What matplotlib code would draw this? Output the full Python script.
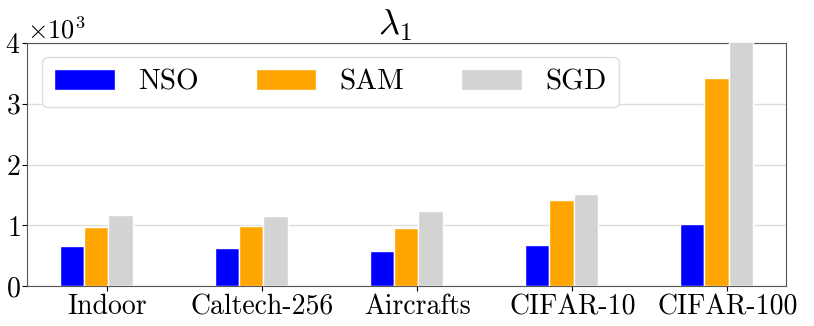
import numpy as np
import matplotlib
matplotlib.use("Agg")
import matplotlib.pyplot as plt
from matplotlib.ticker import ScalarFormatter

# Fuente tipo LaTeX (Computer Modern)
plt.rcParams['font.family'] = 'serif'
plt.rcParams['font.serif'] = ['cmr10']
plt.rcParams['mathtext.fontset'] = 'cm'
plt.rcParams['axes.unicode_minus'] = False
plt.rcParams['axes.formatter.use_mathtext'] = True

# Datos
datasets = ['Indoor', 'Caltech-256', 'Aircrafts', 'CIFAR-10', 'CIFAR-100']
methods = ['NSO', 'SAM', 'SGD']
colors = ['blue', 'orange', 'lightgray']
nso = [654, 621, 572, 676, 1021]
sam = [978, 995, 962, 1423, 3420]
sgd = [1176, 1153, 1242, 1522, 4200]

fig, ax = plt.subplots(figsize=(8.14, 3.26), dpi=100)

x = np.arange(len(datasets))
width = 0.157
offsets = [-0.227, -0.07, 0.087]
for vals, off, c, lab in zip([nso, sam, sgd], offsets, colors, methods):
    ax.bar(x + off, vals, width, color=c, edgecolor='white', linewidth=1, label=lab, zorder=3)

ax.set_xticks(x)
ax.set_xticklabels(datasets, fontsize=20)
ax.set_xlim(-0.516, 4.38)
ax.set_ylim(0, 4000)
ax.set_yticks([0, 1000, 2000, 3000, 4000])

fmt = ScalarFormatter(useMathText=True)
fmt.set_powerlimits((0, 0))
ax.yaxis.set_major_formatter(fmt)
ax.tick_params(axis='y', labelsize=20, pad=1)
ax.tick_params(axis='x', pad=2)
ax.yaxis.get_offset_text().set_fontsize(19)
ax.yaxis.get_offset_text().set_x(0.0)

ax.grid(axis='y', color='#dddddd', linewidth=1, zorder=0)
ax.set_axisbelow(True)
for s in ax.spines.values():
    s.set_color('#555555')

ax.set_title(r'$\lambda_1$', fontsize=26, pad=3, x=0.485)

leg = ax.legend(loc='upper left', ncol=3, fontsize=21, handlelength=2.09,
                handleheight=0.72, handletextpad=0.8, columnspacing=1.95,
                borderpad=0.4, borderaxespad=0, bbox_to_anchor=(0.02, 0.942),
                framealpha=1)
leg.get_frame().set_edgecolor('#dddddd')

plt.subplots_adjust(left=0.033, right=0.966, top=0.868, bottom=0.122)
plt.savefig('out.png', dpi=100)
